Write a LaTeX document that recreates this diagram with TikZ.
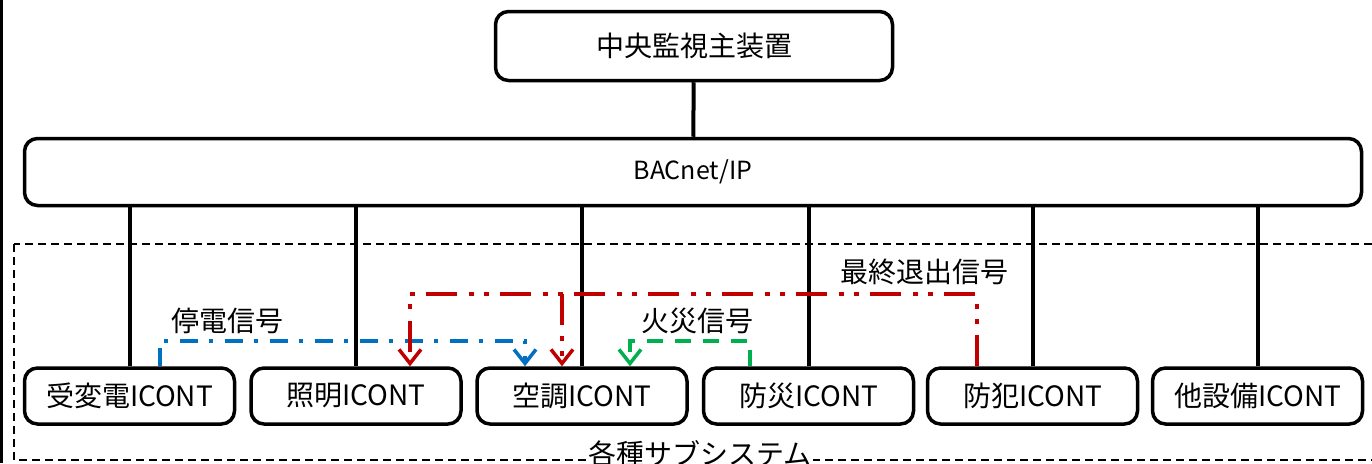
\documentclass[tikz,border=0pt]{standalone}
\usepackage{fontspec}
\setmainfont{Noto Sans CJK JP}
\usetikzlibrary{arrows.meta,calc}
\definecolor{sigred}{HTML}{C00000}
\definecolor{sigblue}{HTML}{0070C0}
\definecolor{siggreen}{HTML}{00B050}
\tikzset{
  box/.style={draw, line width=3.5pt, rounded corners=13pt, fill=white,
    minimum width=210pt, minimum height=56pt, inner sep=0pt,
    font=\fontsize{28}{30}\selectfont},
  conn/.style={line width=4pt},
  lbl/.style={inner sep=0pt, font=\fontsize{28}{30}\selectfont},
  sigtip/.style={-{Straight Barb[length=14pt,width=22pt]}},
  redsig/.style={sigtip, draw=sigred, line width=3.5pt,
    dash pattern=on 31pt off 11pt on 5pt off 10pt on 5pt off 12pt},
  bluesig/.style={sigtip, draw=sigblue, line width=3.5pt,
    dash pattern=on 18pt off 11pt on 4pt off 12pt},
  greensig/.style={sigtip, draw=siggreen, line width=3.5pt,
    dash pattern=on 16pt off 12pt},
  subframe/.style={line width=1.6pt, dash pattern=on 8pt off 5pt}
}
\begin{document}
\begin{tikzpicture}[x=1pt,y=-1pt]
\useasboundingbox (0,0) rectangle (1372,463);
\fill[white] (0,0) rectangle (1372,463);
% left edge bar
\fill[black] (0,0) rectangle (3,463);
% subsystem frame
\draw[subframe] (14,244) rectangle (1400,460);
% main nodes
\node[box, minimum width=397pt, minimum height=69pt] (top) at (694,46) {中央監視主装置};
\node[box, minimum width=1337pt, minimum height=67pt, font=\fontsize{25}{27}\selectfont] (bac) at (693,172) {BACnet/IP};
\node[box] (b1) at (129.5,396) {受変電ICONT};
\node[box] (b2) at (356,396) {照明ICONT};
\node[box] (b3) at (582,396) {空調ICONT};
\node[box] (b4) at (808.5,396) {防災ICONT};
\node[box] (b5) at (1032.5,396) {防犯ICONT};
\node[box] (b6) at (1257.5,396) {他設備ICONT};
% network connectors
\draw[conn] (top) -- (bac);
\foreach \i in {1,...,6}{
  \draw[conn] (b\i.north |- bac.south) -- (b\i.north);
}
% signal labels
\node[lbl] (lblblue) at (227.5,321) {停電信号};
\node[lbl] (lblgreen) at (697.5,321) {火災信号};
\node[lbl] (lblred) at (924.5,272) {最終退出信号};
\node[lbl, fill=white, inner sep=1pt] (sub) at (700,454) {各種サブシステム};
% signal corners
\coordinate (rA) at (410,294);
\coordinate (rB) at (562,294);
\coordinate (bA) at (525,341);
\coordinate (gA) at (630,341);
% signals
\draw[bluesig] ([xshift=30.5pt]b1.north) |- (bA) -- (bA |- b3.north);
\draw[redsig] ([xshift=-55.5pt]b5.north) |- (rA) -- (rA |- b2.north);
\draw[redsig] (rB) -- (rB |- b3.north);
\draw[greensig] ([xshift=-58.5pt]b4.north) |- (gA) -- (gA |- b3.north);
\end{tikzpicture}
\end{document}
